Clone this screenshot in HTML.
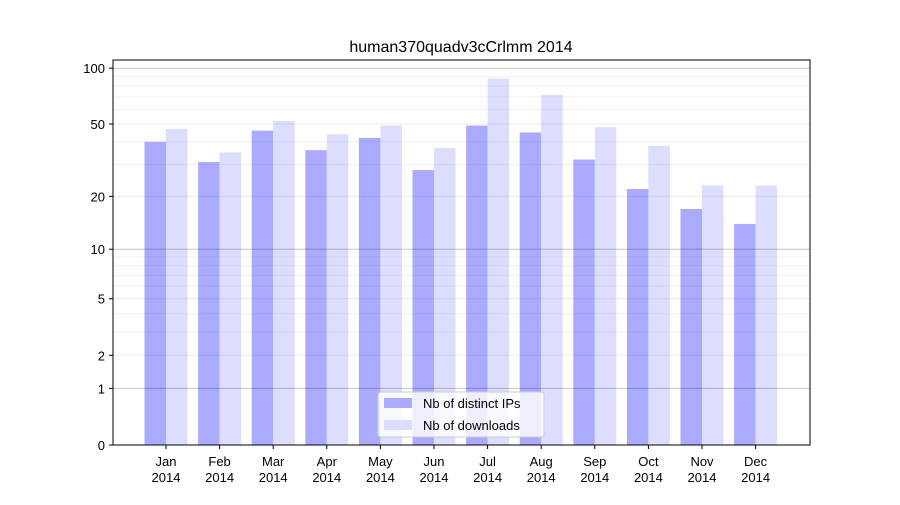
<!DOCTYPE html>
<html><head><meta charset="utf-8"><style>
body{margin:0;background:#fff;font-family:"Liberation Sans","DejaVu Sans",sans-serif}
</style></head><body>
<svg id="chart" width="900" height="500" xmlns="http://www.w3.org/2000/svg">
<rect width="900" height="500" fill="#fff"/>
<text x="461" y="52" text-anchor="middle" font-size="16">human370quadv3cCrlmm 2014</text>
<g id="bars"></g><g id="grid"></g><g id="axes"></g>
</svg>
<script>
const months=["Jan","Feb","Mar","Apr","May","Jun","Jul","Aug","Sep","Oct","Nov","Dec"];
const ips=[40,31,46,36,42,28,49,45,32,22,17,14];
const downloads=[47,35,52,44,49,37,88,72,48,38,23,23];
const yTicks=[0,1,2,5,10,20,50,100];
const minorTicks=[3,4,6,7,8,9,30,40,60,70,80,90];
const NS="http://www.w3.org/2000/svg";
const L=113,R=810,T=60,B=445;
const yMax=Math.log10(1+100)*1.0+ (68-60)/188;
function y(v){return B-Math.log10(1+v)*188;}
function xc(i){return 166+i*53.6;}
function mk(tag,attrs,parent){const e=document.createElementNS(NS,tag);for(const k in attrs)e.setAttribute(k,attrs[k]);parent.appendChild(e);return e;}
const bars=document.getElementById('bars'),grid=document.getElementById('grid'),axes=document.getElementById('axes');
months.forEach((m,i)=>{
 const a=mk('rect',{x:xc(i)-21.5,y:y(ips[i]),width:21.5,height:B-y(ips[i]),fill:'#aaaaff'},bars);
 
 
 const b=mk('rect',{x:xc(i),y:y(downloads[i]),width:21.5,height:B-y(downloads[i]),fill:'#ddddff'},bars);
 
 
 mk('line',{x1:xc(i),x2:xc(i),y1:B,y2:B+4,stroke:'#000'},axes);
 const t=mk('text',{x:xc(i),y:B+21,'text-anchor':'middle','font-size':13},axes);
 
 
 t.textContent=m;
 const t2=mk('text',{x:xc(i),y:B+37,'text-anchor':'middle','font-size':13},axes);
 
 
 t2.textContent='2014';
});
minorTicks.forEach(v=>{mk('line',{x1:L,x2:R,y1:y(v),y2:y(v),stroke:'#000','stroke-opacity':0.06},grid);});
yTicks.forEach(v=>{
 const dark=(v===1||v===10||v===100);
 if(v>0)mk('line',{x1:L,x2:R,y1:y(v),y2:y(v),stroke:'#000','stroke-opacity':dark?0.22:0.08},grid);
 mk('line',{x1:L-4,x2:L,y1:y(v),y2:y(v),stroke:'#000'},axes);
 const t=mk('text',{x:L-8,y:y(v)+5,'text-anchor':'end','font-size':13},axes);
 
 
 t.textContent=v;
});
const f=mk('rect',{x:L,y:T,width:R-L,height:B-T,fill:'none',stroke:'#000'},axes);


const lg=mk('g',{},axes);


mk('rect',{x:378,y:392,width:166,height:45,rx:3,fill:'#fff','fill-opacity':0.8,stroke:'#ccc'},lg);
mk('rect',{x:384,y:398,width:28,height:10,fill:'#aaaaff'},lg);
mk('rect',{x:384,y:420,width:28,height:10,fill:'#ddddff'},lg);
const l1=mk('text',{x:423,y:408,'font-size':13},lg);


l1.textContent='Nb of distinct IPs';
const l2=mk('text',{x:423,y:430,'font-size':13},lg);


l2.textContent='Nb of downloads';
</script>
</body></html>
